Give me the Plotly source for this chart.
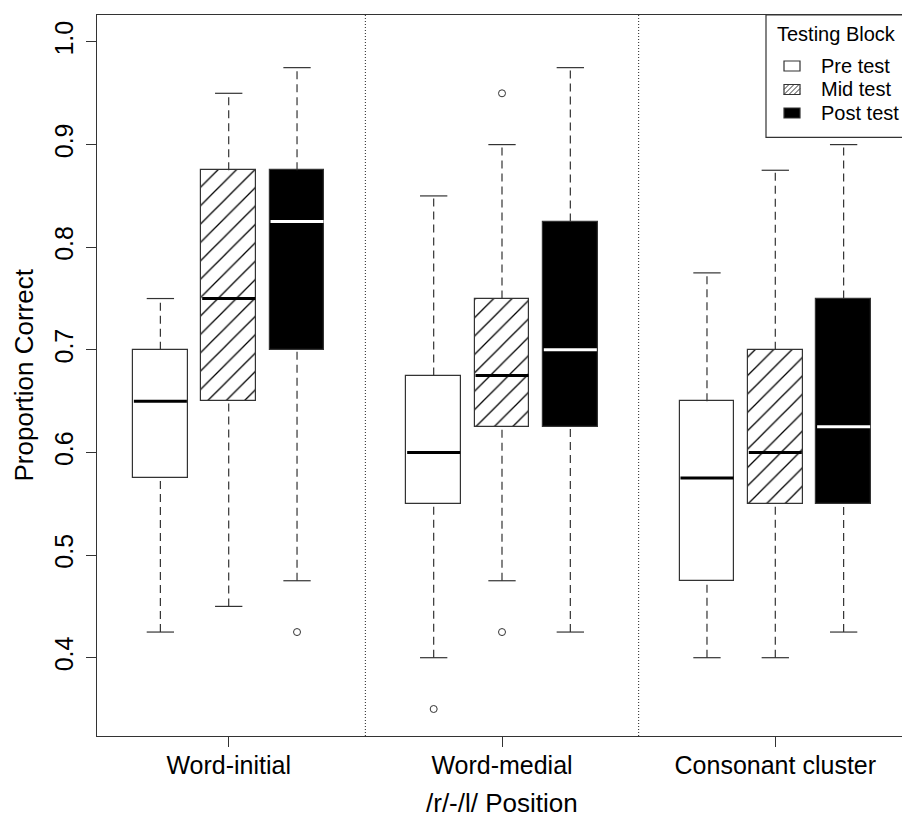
import plotly.graph_objects as go

# ---- data -------------------------------------------------------------
categories = ["Word-initial", "Word-medial", "Consonant cluster"]
blocks = ["Pre test", "Mid test", "Post test"]

pre_low = [0.425, 0.400, 0.400]
pre_q1 = [0.575, 0.550, 0.475]
pre_med = [0.650, 0.600, 0.575]
pre_q3 = [0.700, 0.675, 0.650]
pre_high = [0.750, 0.850, 0.775]
pre_out = [[], [0.350], []]

mid_low = [0.450, 0.475, 0.400]
mid_q1 = [0.650, 0.625, 0.550]
mid_med = [0.750, 0.675, 0.600]
mid_q3 = [0.875, 0.750, 0.700]
mid_high = [0.950, 0.900, 0.875]
mid_out = [[], [0.950, 0.425], []]

post_low = [0.475, 0.425, 0.425]
post_q1 = [0.700, 0.625, 0.550]
post_med = [0.825, 0.700, 0.625]
post_q3 = [0.875, 0.825, 0.750]
post_high = [0.975, 0.975, 0.900]
post_out = [[0.425], [], []]

y_ticks = [0.4, 0.5, 0.6, 0.7, 0.8, 0.9, 1.0]

# ---- layout constants -------------------------------------------------
W, H = 902, 817
ML, MT, MB, MR = 97, 15, 81, 0
FONT = "Liberation Sans, Arial, sans-serif"
INK = "#333333"

group_pos = [1, 2, 3]
offsets = [-0.25, 0.0, 0.25]
box_w = 0.2
cap_half = 0.05

stats = [
    dict(low=pre_low, q1=pre_q1, med=pre_med, q3=pre_q3, high=pre_high, out=pre_out,
         fill="white", pattern="", median="black"),
    dict(low=mid_low, q1=mid_q1, med=mid_med, q3=mid_q3, high=mid_high, out=mid_out,
         fill="white", pattern="/", median="black"),
    dict(low=post_low, q1=post_q1, med=post_med, q3=post_q3, high=post_high, out=post_out,
         fill="black", pattern="", median="white"),
]

fig = go.Figure()

for b, (name, s) in enumerate(zip(blocks, stats)):
    xs = [g + offsets[b] for g in group_pos]

    # box body: from Q1 to Q3
    fig.add_trace(go.Bar(
        x=xs, y=[q3 - q1 for q1, q3 in zip(s["q1"], s["q3"])], base=s["q1"],
        width=box_w, name=name, showlegend=False, hoverinfo="skip",
        marker=dict(
            color=s["fill"],
            line=dict(color=INK, width=1.2),
            pattern=dict(shape=s["pattern"], fgcolor="#000000", fgopacity=1, bgcolor="white",
                         size=13, solidity=0.1) if s["pattern"] else None,
        ),
    ))

    # dashed whiskers
    wx, wy = [], []
    for x, lo, q1, q3, hi in zip(xs, s["low"], s["q1"], s["q3"], s["high"]):
        wx += [x, x, None, x, x, None]
        wy += [lo, q1, None, q3, hi, None]
    fig.add_trace(go.Scatter(x=wx, y=wy, mode="lines", showlegend=False, hoverinfo="skip",
                             line=dict(color=INK, width=1.2, dash="8px,5px")))

    # whisker caps
    cx, cy = [], []
    for x, lo, hi in zip(xs, s["low"], s["high"]):
        cx += [x - cap_half, x + cap_half, None, x - cap_half, x + cap_half, None]
        cy += [lo, lo, None, hi, hi, None]
    fig.add_trace(go.Scatter(x=cx, y=cy, mode="lines", showlegend=False, hoverinfo="skip",
                             line=dict(color=INK, width=1.2)))

    # medians
    mx, my = [], []
    for x, m in zip(xs, s["med"]):
        mx += [x - box_w / 2 * 0.97, x + box_w / 2 * 0.97, None]
        my += [m, m, None]
    fig.add_trace(go.Scatter(x=mx, y=my, mode="lines", showlegend=False, hoverinfo="skip",
                             line=dict(color=s["median"], width=3)))

    # outliers
    ox, oy = [], []
    for x, outs in zip(xs, s["out"]):
        for v in outs:
            ox.append(x)
            oy.append(v)
    if ox:
        fig.add_trace(go.Scatter(x=ox, y=oy, mode="markers", showlegend=False, hoverinfo="skip",
                                 marker=dict(symbol="circle-open", size=7, color=INK,
                                             line=dict(width=1))))

# dotted separators between positions
for a, b in zip(group_pos[:-1], group_pos[1:]):
    fig.add_shape(type="line", xref="x", yref="paper", x0=(a + b) / 2, x1=(a + b) / 2,
                  y0=0, y1=1, line=dict(color="#222222", width=1, dash="1px,2px"), layer="above")

# ---- legend, drawn in pixel space --------------------------------------
PW = W - ML - MR
PH = H - MT - MB


def px(x):
    return (x - ML) / PW


def py(y):
    return (H - MB - y) / PH


fig.add_shape(type="rect", xref="paper", yref="paper",
              x0=px(766), x1=px(912), y0=py(137.3), y1=py(MT),
              line=dict(color=INK, width=1.2), fillcolor="white", layer="above")
fig.add_annotation(xref="paper", yref="paper", x=px(836.5), y=py(34), text="Testing Block",
                   showarrow=False, xanchor="center", yanchor="middle",
                   font=dict(family=FONT, size=20, color="black"))

row_y = [66, 89.5, 113]
sw_x0, sw_x1 = 784, 800
sw_h = 10
for name, s, yc in zip(blocks, stats, row_y):
    fig.add_shape(type="rect", xref="paper", yref="paper",
                  x0=px(sw_x0), x1=px(sw_x1), y0=py(yc + sw_h / 2), y1=py(yc - sw_h / 2),
                  line=dict(color=INK, width=1.2), fillcolor=s["fill"], layer="above")
    if s["pattern"]:
        yb, yt = yc + sw_h / 2, yc - sw_h / 2
        for c in range(-sw_h, sw_x1 - sw_x0, 5):
            xa, ya = sw_x0 + c, yb
            xb, yb2 = sw_x0 + c + sw_h, yt
            if xa < sw_x0:
                ya = yb - (sw_x0 - xa)
                xa = sw_x0
            if xb > sw_x1:
                yb2 = yt + (xb - sw_x1)
                xb = sw_x1
            if xb - xa > 0.5:
                fig.add_shape(type="line", xref="paper", yref="paper",
                              x0=px(xa), y0=py(ya), x1=px(xb), y1=py(yb2),
                              line=dict(color="#333333", width=1), layer="above")
    fig.add_annotation(xref="paper", yref="paper", x=px(819), y=py(yc), text=name,
                       showarrow=False, xanchor="left", yanchor="middle",
                       font=dict(family=FONT, size=20, color="black"))

# ---- axis titles ----------------------------------------------------------
fig.add_annotation(xref="paper", yref="paper", x=px(23), y=0.5, text="Proportion Correct",
                   textangle=-90, showarrow=False, xanchor="center", yanchor="middle",
                   font=dict(family=FONT, size=26, color="black"))
fig.add_annotation(xref="x", yref="paper", x=sum(group_pos) / len(group_pos), y=py(803),
                   text="/r/-/l/ Position", showarrow=False, xanchor="center", yanchor="middle",
                   font=dict(family=FONT, size=26, color="black"))

# ---- axes ----------------------------------------------------------------
unit = 273.3  # pixels per group step
x_lo = group_pos[0] - (228.7 - ML) / unit
x_hi = x_lo + PW / unit

fig.update_layout(
    width=W, height=H,
    margin=dict(l=ML, r=MR, t=MT, b=MB, pad=0),
    paper_bgcolor="white", plot_bgcolor="white",
    barmode="overlay", bargap=0,
    showlegend=False,
    font=dict(family=FONT, color="black"),
    xaxis=dict(
        range=[x_lo, x_hi], tickmode="array", tickvals=group_pos, ticktext=categories,
        ticks="outside", ticklen=10, tickcolor=INK, tickwidth=1.2, ticklabelstandoff=-3,
        showline=True, mirror=True, linecolor=INK, linewidth=1.2,
        showgrid=False, zeroline=False, tickfont=dict(family=FONT, size=25, color="black"),
    ),
    yaxis=dict(
        range=[0.3237, 1.0263], tickmode="array", tickvals=y_ticks,
        ticktext=[f"{v:.1f}" for v in y_ticks], tickangle=-90,
        ticks="outside", ticklen=10, tickcolor=INK, tickwidth=1.2, ticklabelstandoff=3,
        showline=True, mirror=False, linecolor=INK, linewidth=1.2,
        showgrid=False, zeroline=False, tickfont=dict(family=FONT, size=25, color="black"),
    ),
)

fig.write_html("out.html")
